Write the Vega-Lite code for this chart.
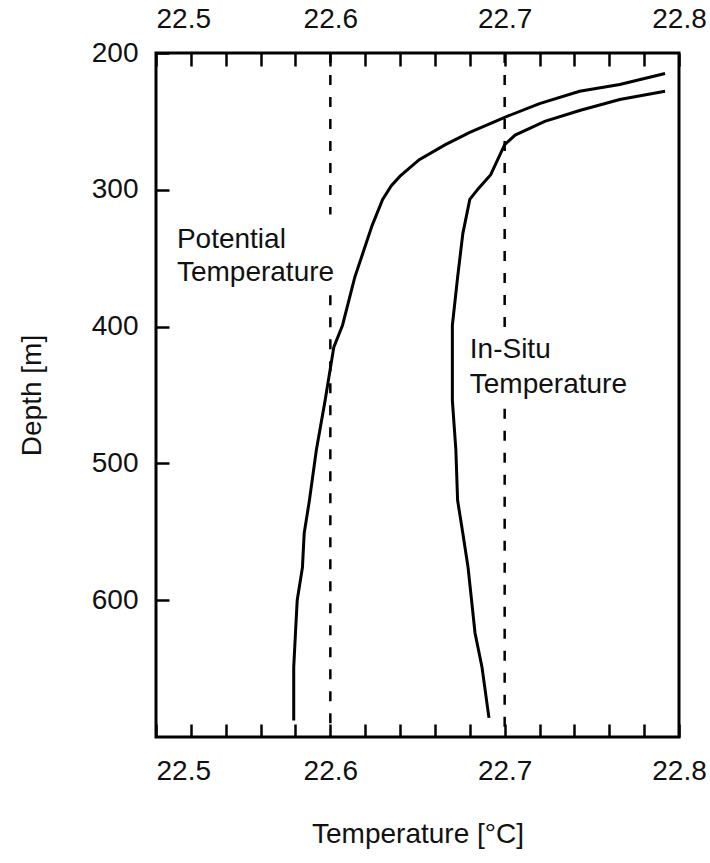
{
  "$schema": "https://vega.github.io/schema/vega-lite/v6.json",
  "autosize": "none",
  "width": 523,
  "height": 684,
  "padding": {"left": 156, "top": 53, "right": 31, "bottom": 126},
  "background": "white",
  "config": {
    "view": {"stroke": "black", "strokeWidth": 3},
    "font": "Liberation Sans",
    "axis": {
      "domain": false,
      "grid": false,
      "zindex": 1,
      "labelFont": "Liberation Sans",
      "labelFontSize": 28,
      "labelColor": "#111",
      "titleFont": "Liberation Sans",
      "titleFontSize": 28,
      "titleFontWeight": "normal",
      "titleColor": "#111",
      "ticks": true,
      "tickColor": "black",
      "tickWidth": 2.5,
      "tickSize": 13,
      "offset": -13,
      "labelFlush": false,
      "labelOverlap": false
    }
  },
  "datasets": {
    "profiles": [
      {"series": "Potential", "T": 22.792, "depth": 215},
      {"series": "Potential", "T": 22.766, "depth": 223},
      {"series": "Potential", "T": 22.743, "depth": 228},
      {"series": "Potential", "T": 22.720, "depth": 237},
      {"series": "Potential", "T": 22.700, "depth": 247},
      {"series": "Potential", "T": 22.680, "depth": 258},
      {"series": "Potential", "T": 22.666, "depth": 267},
      {"series": "Potential", "T": 22.651, "depth": 278},
      {"series": "Potential", "T": 22.640, "depth": 290},
      {"series": "Potential", "T": 22.635, "depth": 297},
      {"series": "Potential", "T": 22.630, "depth": 307},
      {"series": "Potential", "T": 22.624, "depth": 326},
      {"series": "Potential", "T": 22.614, "depth": 364},
      {"series": "Potential", "T": 22.607, "depth": 399},
      {"series": "Potential", "T": 22.602, "depth": 415},
      {"series": "Potential", "T": 22.597, "depth": 454},
      {"series": "Potential", "T": 22.592, "depth": 490},
      {"series": "Potential", "T": 22.588, "depth": 527},
      {"series": "Potential", "T": 22.585, "depth": 551},
      {"series": "Potential", "T": 22.584, "depth": 576},
      {"series": "Potential", "T": 22.581, "depth": 600},
      {"series": "Potential", "T": 22.580, "depth": 624},
      {"series": "Potential", "T": 22.579, "depth": 649},
      {"series": "Potential", "T": 22.579, "depth": 688},
      {"series": "InSitu", "T": 22.792, "depth": 228},
      {"series": "InSitu", "T": 22.766, "depth": 234},
      {"series": "InSitu", "T": 22.743, "depth": 242},
      {"series": "InSitu", "T": 22.723, "depth": 250},
      {"series": "InSitu", "T": 22.706, "depth": 260},
      {"series": "InSitu", "T": 22.700, "depth": 267},
      {"series": "InSitu", "T": 22.696, "depth": 278},
      {"series": "InSitu", "T": 22.692, "depth": 289},
      {"series": "InSitu", "T": 22.685, "depth": 299},
      {"series": "InSitu", "T": 22.680, "depth": 307},
      {"series": "InSitu", "T": 22.676, "depth": 332},
      {"series": "InSitu", "T": 22.673, "depth": 364},
      {"series": "InSitu", "T": 22.670, "depth": 399},
      {"series": "InSitu", "T": 22.670, "depth": 415},
      {"series": "InSitu", "T": 22.670, "depth": 454},
      {"series": "InSitu", "T": 22.672, "depth": 490},
      {"series": "InSitu", "T": 22.673, "depth": 527},
      {"series": "InSitu", "T": 22.676, "depth": 551},
      {"series": "InSitu", "T": 22.679, "depth": 576},
      {"series": "InSitu", "T": 22.681, "depth": 600},
      {"series": "InSitu", "T": 22.683, "depth": 624},
      {"series": "InSitu", "T": 22.687, "depth": 649},
      {"series": "InSitu", "T": 22.691, "depth": 686}
    ],
    "refs": [
      {"T": 22.6, "depth": 200, "depth2": 318},
      {"T": 22.6, "depth": 377, "depth2": 700},
      {"T": 22.7, "depth": 200, "depth2": 402},
      {"T": 22.7, "depth": 460, "depth2": 700}
    ],
    "labels": [
      {"T": 22.512, "depth": 337, "text": "Potential"},
      {"T": 22.512, "depth": 361, "text": "Temperature"},
      {"T": 22.680, "depth": 417, "text": "In-Situ"},
      {"T": 22.680, "depth": 443, "text": "Temperature"}
    ]
  },
  "encoding": {
    "y": {"field": "depth", "type": "quantitative",
          "scale": {"domain": [200, 700], "nice": false, "zero": false, "reverse": true},
          "axis": {"orient": "left", "title": "Depth [m]", "values": [200, 300, 400, 500, 600],
                   "labelPadding": 18, "titlePadding": 45}}
  },
  "layer": [
    {
      "data": {"name": "profiles"},
      "mark": {"type": "line", "color": "black", "strokeWidth": 3},
      "encoding": {
        "x": {"field": "T", "type": "quantitative",
              "scale": {"domain": [22.5, 22.8], "nice": false, "zero": false},
              "axis": {"orient": "bottom", "title": "Temperature [°C]",
                       "values": [22.5, 22.52, 22.54, 22.56, 22.58, 22.6, 22.62, 22.64, 22.66, 22.68, 22.7, 22.72, 22.74, 22.76, 22.78, 22.8],
                       "labelExpr": "(abs(datum.value*10 - round(datum.value*10)) < 0.001) ? format(datum.value, '.1f') : ''",
                       "labelAlign": {"condition": {"test": "datum.value < 22.51", "value": "left"}, "value": "center"},
                       "labelPadding": 20, "titlePadding": 35}},
        "detail": {"field": "series"},
        "order": {"field": "depth", "type": "quantitative"}
      }
    },
    {
      "data": {"name": "refs"},
      "mark": {"type": "rule", "color": "black", "strokeWidth": 2.5, "strokeDash": [10, 12]},
      "encoding": {
        "x": {"field": "T", "type": "quantitative",
              "scale": {"domain": [22.5, 22.8], "nice": false, "zero": false},
              "axis": {"orient": "top", "title": null,
                       "values": [22.5, 22.52, 22.54, 22.56, 22.58, 22.6, 22.62, 22.64, 22.66, 22.68, 22.7, 22.72, 22.74, 22.76, 22.78, 22.8],
                       "labelExpr": "(abs(datum.value*10 - round(datum.value*10)) < 0.001) ? format(datum.value, '.1f') : ''",
                       "labelAlign": {"condition": {"test": "datum.value < 22.51", "value": "left"}, "value": "center"},
                       "labelPadding": 20}},
        "y2": {"field": "depth2"}
      }
    },
    {
      "data": {"name": "labels"},
      "mark": {"type": "text", "align": "left", "baseline": "middle", "fontSize": 28, "font": "Liberation Sans", "color": "#111"},
      "encoding": {
        "x": {"field": "T", "type": "quantitative",
              "scale": {"domain": [22.5, 22.8], "nice": false, "zero": false}, "axis": null},
        "text": {"field": "text"}
      }
    }
  ]
}
